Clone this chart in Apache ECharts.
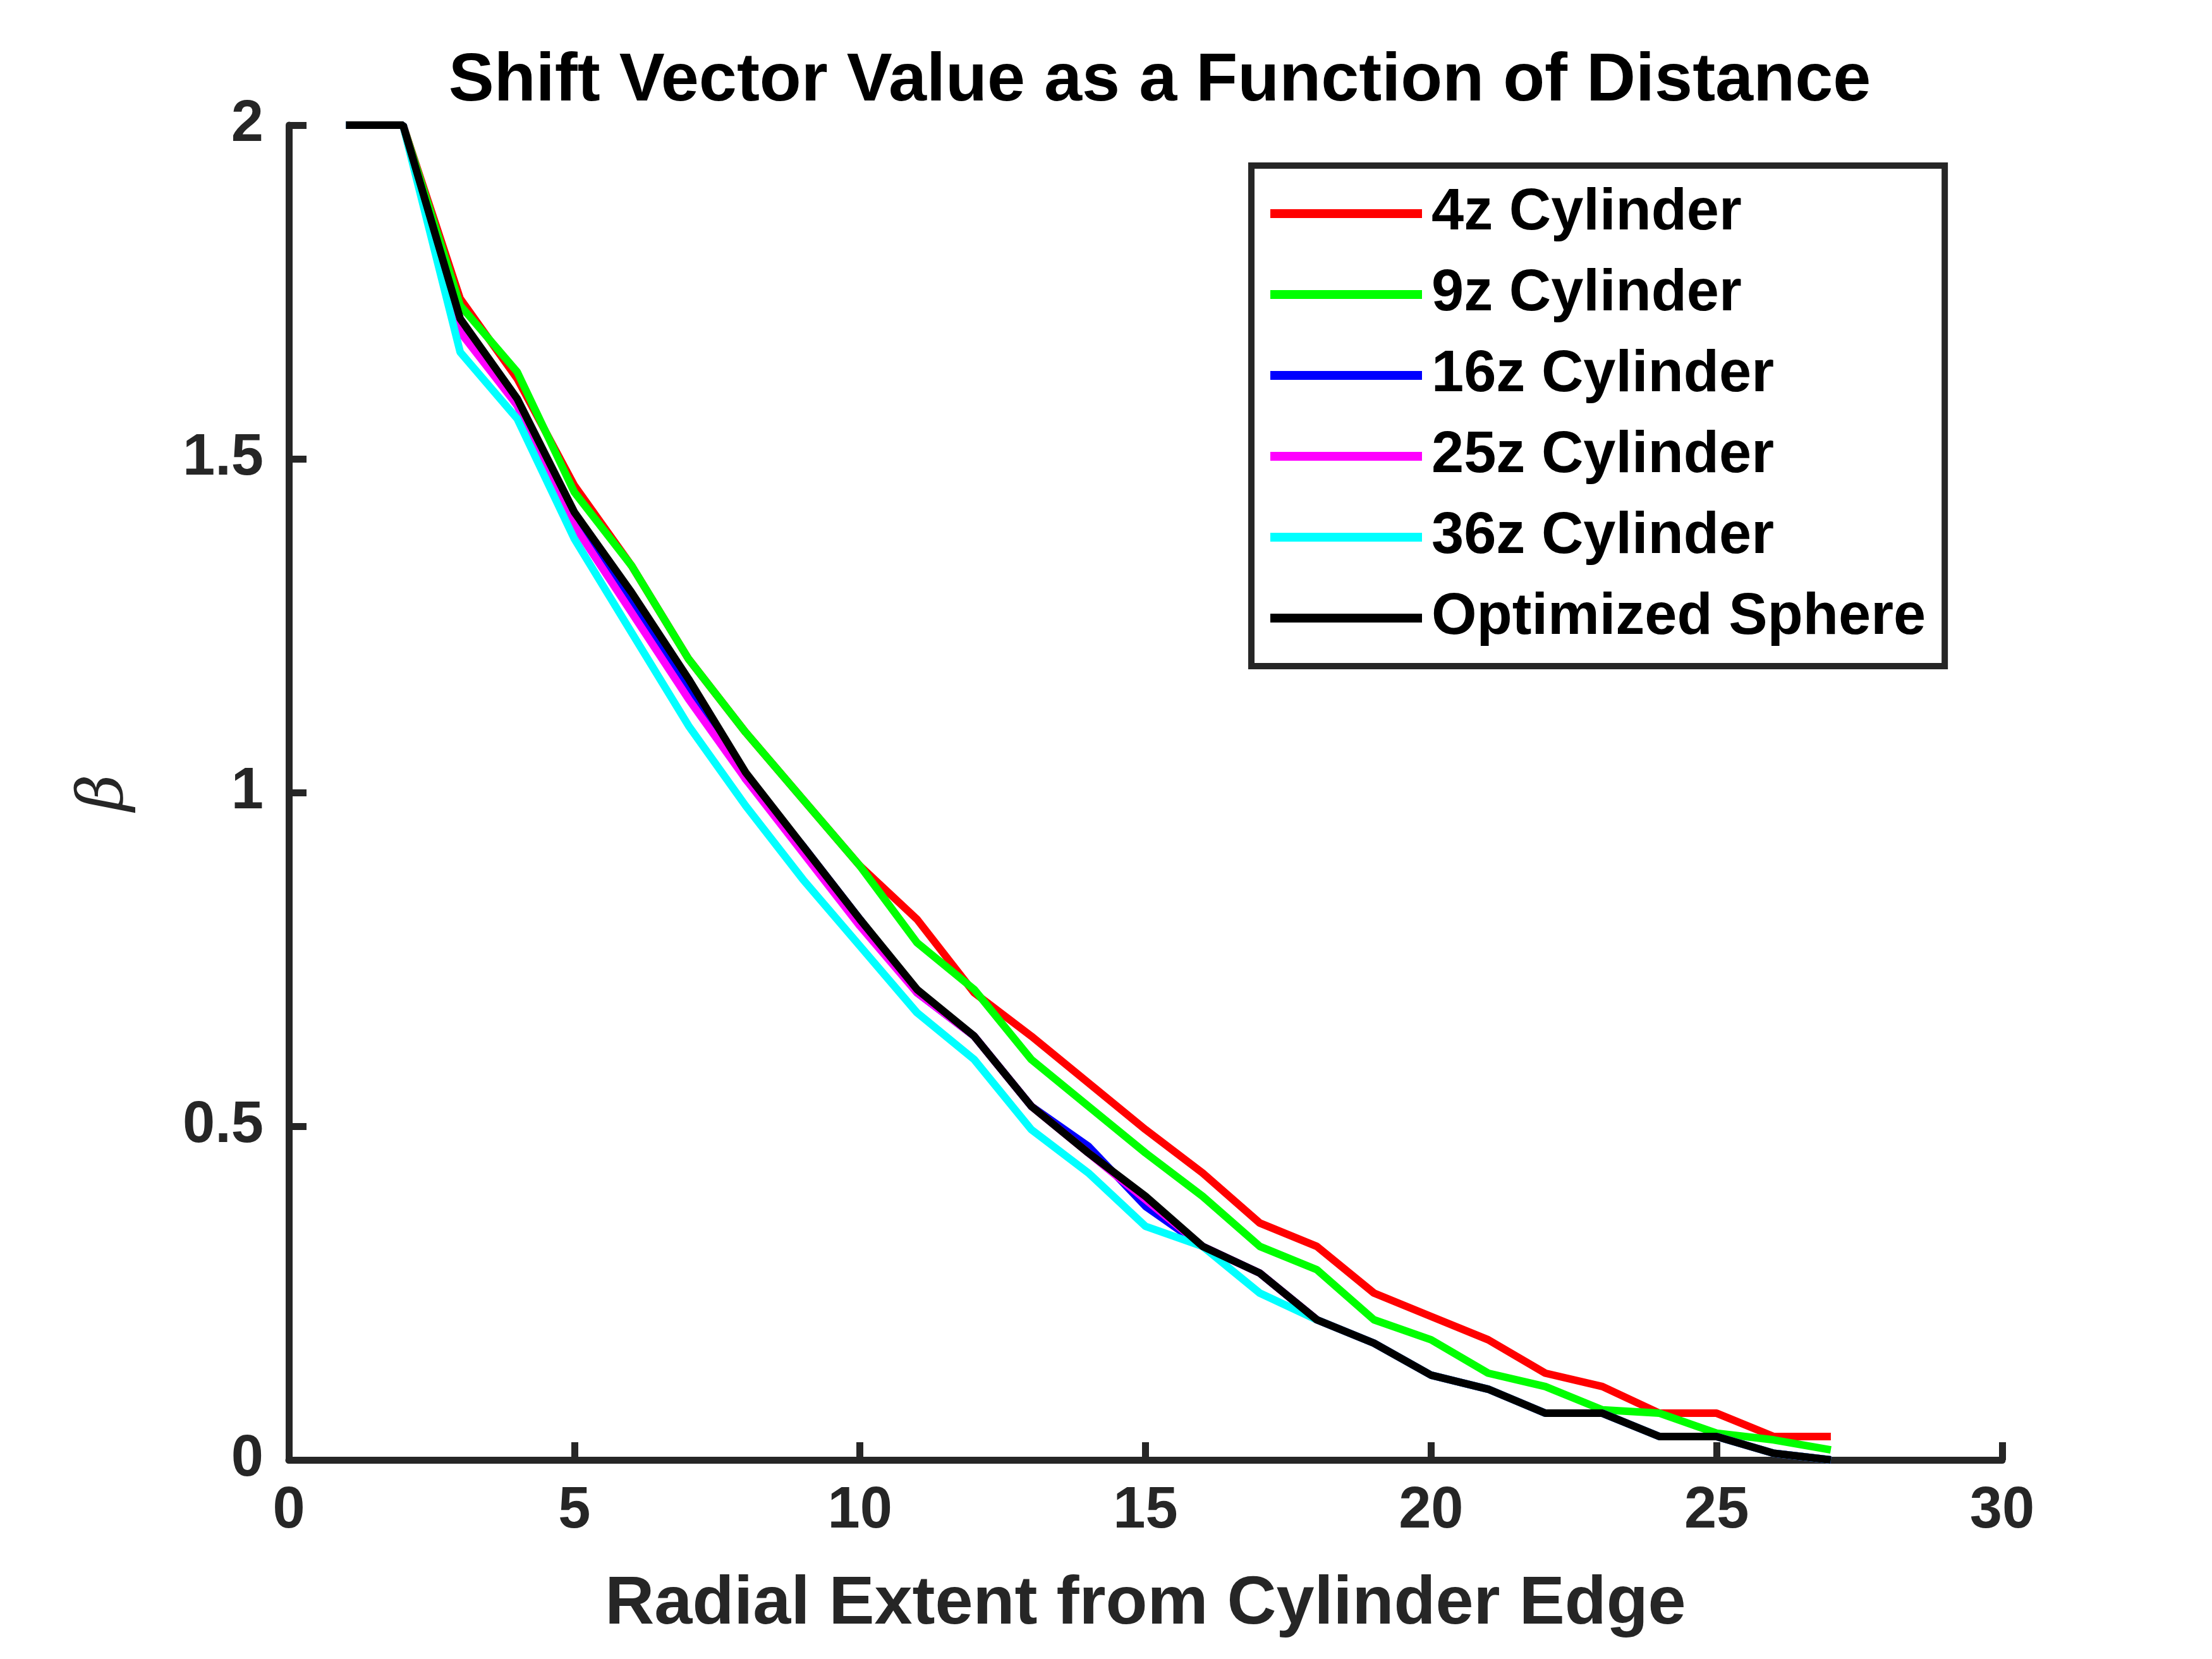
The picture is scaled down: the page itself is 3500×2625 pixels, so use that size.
<!DOCTYPE html>
<html>
<head>
<meta charset="utf-8">
<script src="https://cdn.jsdelivr.net/npm/echarts@6/dist/echarts.min.js"></script>
<style>html,body{margin:0;background:#fff}#c{width:3500px;height:2625px}</style>
</head>
<body>
<div id="c"></div>
<script>
const xs = [1,2,3,4,5,6,7,8,9,10,11,12,13,14,15,16,17,18,19,20,21,22,23,24,25,26,27];
const cyl4 = [2,2,1.74,1.62,1.46,1.34,1.2,1.09,0.99,0.89,0.81,0.7,0.635,0.565,0.495,0.43,0.355,0.32,0.25,0.215,0.18,0.13,0.11,0.07,0.07,0.035,0.035];
const cyl9 = [2,2,1.73,1.63,1.45,1.34,1.2,1.09,0.99,0.89,0.775,0.705,0.6,0.53,0.46,0.395,0.32,0.285,0.21,0.18,0.13,0.11,0.075,0.07,0.04,0.03,0.015];
const cyl16 = [2,2,1.70,1.58,1.41,1.28,1.16,1.02,0.92,0.81,0.70,0.635,0.53,0.47,0.38,0.32,0.28,0.21,0.175,0.127,0.106,0.07,0.07,0.035,0.035,0.01,0];
const cyl25 = [2,2,1.69,1.58,1.40,1.27,1.14,1.02,0.91,0.80,0.70,0.635,0.53,0.46,0.39,0.32,0.28,0.21,0.175,0.127,0.106,0.07,0.07,0.035,0.035,0.01,0];
const cyl36 = [2,2,1.66,1.56,1.38,1.24,1.10,0.98,0.87,0.77,0.67,0.60,0.495,0.43,0.35,0.32,0.25,0.21,0.175,0.127,0.106,0.07,0.07,0.035,0.035,0.01,0];
const sphere = [2,2,1.71,1.59,1.42,1.30,1.17,1.03,0.92,0.81,0.705,0.635,0.53,0.46,0.395,0.32,0.28,0.21,0.175,0.127,0.106,0.07,0.07,0.035,0.035,0.01,0];
const names = ['4z Cylinder','9z Cylinder','16z Cylinder','25z Cylinder','36z Cylinder','Optimized Sphere'];
const colors = ['#ff0000','#00ff00','#0000ff','#ff00ff','#00ffff','#000000'];
const values = [cyl4,cyl9,cyl16,cyl25,cyl36,sphere];

const axisCol = '#262626';
const font = 'Liberation Sans';
const chart = echarts.init(document.getElementById('c'));
chart.setOption({
  animation:false,
  backgroundColor:'#fff',
  title:{text:'Shift Vector Value as a Function of Distance',left:1830,top:70,textAlign:'center',
    textStyle:{fontFamily:font,fontWeight:'bold',fontSize:108,color:'#000'}},
  grid:{left:457,right:332,top:198,bottom:315},
  legend:{orient:'vertical',left:1980,top:262,
    padding:[30,30,30,30],borderColor:axisCol,borderWidth:10,backgroundColor:'#fff',
    itemWidth:240,itemHeight:14,itemGap:36,
    icon:'rect',
    textStyle:{fontFamily:font,fontWeight:'bold',fontSize:92,color:'#000',padding:[0,0,0,10]},
    data:names},
  xAxis:{type:'value',min:0,max:30,interval:5,
    name:'Radial Extent from Cylinder Edge',nameLocation:'middle',nameGap:175,
    nameTextStyle:{fontFamily:font,fontWeight:'bold',fontSize:108,color:axisCol},
    axisLine:{lineStyle:{color:axisCol,width:11}},
    axisTick:{inside:true,length:28,lineStyle:{color:axisCol,width:11}},
    axisLabel:{fontFamily:font,fontWeight:'bold',fontSize:92,color:axisCol,margin:36},
    splitLine:{show:false}},
  yAxis:{type:'value',min:0,max:2,interval:0.5,
    name:'β',nameLocation:'middle',nameGap:240,nameRotate:90,
    nameTextStyle:{fontFamily:'DejaVu Serif',fontStyle:'italic',fontSize:100,color:axisCol},
    axisLine:{show:true,lineStyle:{color:axisCol,width:11}},
    axisTick:{show:true,inside:true,length:28,lineStyle:{color:axisCol,width:11}},
    axisLabel:{fontFamily:font,fontWeight:'bold',fontSize:92,color:axisCol,margin:40},
    splitLine:{show:false}},
  series:names.map((n,i)=>({
    name:n,type:'line',showSymbol:false,symbol:'none',
    color:colors[i],
    lineStyle:{width:12,color:colors[i]},
    data:xs.map((x,j)=>[x,values[i][j]])
  }))
});
</script>
</body>
</html>
